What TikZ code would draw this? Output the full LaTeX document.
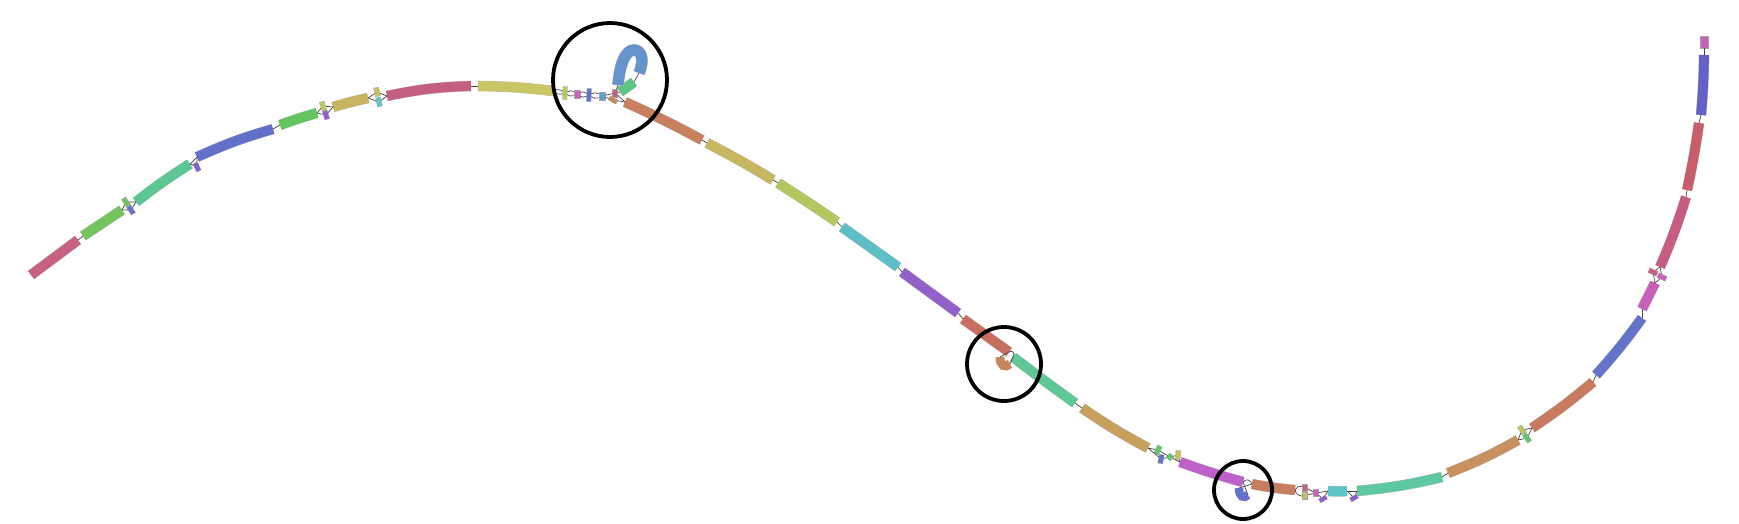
\documentclass[tikz,border=0pt]{standalone}
\begin{document}
\definecolor{cA}{HTML}{C8617F}
\definecolor{cB}{HTML}{72C55C}
\definecolor{cC}{HTML}{5DC793}
\definecolor{cD}{HTML}{6170C9}
\definecolor{cE}{HTML}{63C562}
\definecolor{cF}{HTML}{C8B35E}
\definecolor{cG}{HTML}{C55F80}
\definecolor{cH}{HTML}{C8C763}
\definecolor{cI}{HTML}{5EC882}
\definecolor{cJ}{HTML}{6494CB}
\definecolor{cK}{HTML}{C8805F}
\definecolor{cL}{HTML}{C7B760}
\definecolor{cM}{HTML}{B1C85F}
\definecolor{cN}{HTML}{5EC0C7}
\definecolor{cO}{HTML}{935FC8}
\definecolor{cP}{HTML}{C76E5F}
\definecolor{cQ}{HTML}{5EC896}
\definecolor{cR}{HTML}{C8A05E}
\definecolor{cS}{HTML}{BF5FCA}
\definecolor{cT}{HTML}{C87E5E}
\definecolor{cU}{HTML}{5EC4C8}
\definecolor{cV}{HTML}{5EC8A0}
\definecolor{cW}{HTML}{C8905E}
\definecolor{cX}{HTML}{C87B5F}
\definecolor{cY}{HTML}{6273C9}
\definecolor{cZ}{HTML}{C860B9}
\definecolor{ca}{HTML}{C85E7F}
\definecolor{cb}{HTML}{C75E69}
\definecolor{cc}{HTML}{6262C9}
\definecolor{cd}{HTML}{C85FBB}
\definecolor{sy}{HTML}{C8C060}
\definecolor{sb}{HTML}{6472CC}
\definecolor{sp}{HTML}{8D5FCC}
\definecolor{sg}{HTML}{B9C960}
\definecolor{sc}{HTML}{5FC6C6}
\definecolor{sm2}{HTML}{CC5FC0}
\definecolor{sbc}{HTML}{5FA0C8}
\definecolor{sr}{HTML}{C85F7A}
\definecolor{so}{HTML}{C8865E}
\definecolor{sgr}{HTML}{5EC870}
\tikzset{
  segout/.style={line width=10.6pt, draw=black!25, line cap=butt},
  segin/.style={line width=9.8pt, line cap=butt},
  edge/.style={draw=black!72, line width=0.7pt},
  smn/.style={draw=black!35, line width=0.3pt, inner sep=0pt, minimum width=5pt, minimum height=9pt},
  ring/.style={draw=black, line width=3.8pt},
}
\newcommand\sgm[5]{%
  \coordinate (#1a) at (#3); \coordinate (#1b) at (#4);
  \draw[segout] (#1a) to[bend left=#5] (#1b);
  \draw[segin, draw=#2] (#1a) to[bend left=#5] (#1b);}
\begin{tikzpicture}[x=1pt,y=-1pt]
\useasboundingbox (0,0) rectangle (1739,523);
% segments
\sgm{S1}{cA}{31,275}{78,240}{0}
\sgm{S2}{cB}{83,236}{122,210}{0}
\sgm{S3}{cC}{136,202}{190,164}{3}
\sgm{S4}{cD}{197,157}{273,129}{4}
\sgm{S5}{cE}{280,125}{317,113}{2}
\sgm{S6}{cF}{333,107}{368,98}{2}
\sgm{S7}{cG}{387,96}{471,86}{5}
\sgm{S8}{cH}{478,86}{553,91}{3}
\sgm{S9}{cI}{620,92}{634,82}{0}
\sgm{S10}{cK}{625,102}{702,140}{2}
\sgm{S11}{cL}{707,143}{773,180}{2}
\sgm{S12}{cM}{778,183}{837,222}{1}
\sgm{S13}{cN}{842,227}{898,267}{0}
\sgm{S14}{cO}{902,272}{958,313}{0}
\sgm{S15}{cP}{963,319}{1009,352}{0}
\sgm{S16}{cQ}{1013,357}{1075,403}{-1}
\sgm{S17}{cR}{1082,408}{1148,448}{-3}
\sgm{S18}{cS}{1180,462}{1243,482}{-2}
\sgm{S19}{cT}{1252,484}{1295,490}{-3}
\sgm{S20}{cU}{1328,491}{1347,491}{-4}
\sgm{S21}{cV}{1357,491}{1442,477}{-4}
\sgm{S22}{cW}{1448,473}{1518,440}{-4}
\sgm{S23}{cX}{1532,428}{1593,382}{-3}
\sgm{S24}{cY}{1596,375}{1642,318}{-3}
\sgm{S25}{cZ}{1642,309}{1655,283}{0}
\sgm{S26}{ca}{1660,267}{1686,197}{-3}
\sgm{S27}{cb}{1687,190}{1699,123}{-2}
\sgm{S28}{cc}{1701,115}{1704,55}{-2}
\node[smn, fill=cd, minimum width=8pt, minimum height=12pt] (top) at (1704,42) {};
% hook
\coordinate (Ha) at (618,85); \coordinate (Hb) at (639,73);
\draw[segout, line width=12pt] (Ha) .. controls (620,62) and (626,50) .. (634,50) .. controls (641,50) and (645,59) .. (Hb);
\draw[segin, line width=11pt, draw=cJ] (Ha) .. controls (620,62) and (626,50) .. (634,50) .. controls (641,50) and (645,59) .. (Hb);
% blobs
\coordinate (Oa) at (1000,357); \coordinate (Ob) at (1010,364);
\draw[line width=9pt, draw=so] (Oa) .. controls (1000,366) and (1005,368) .. (Ob);
\coordinate (Ba) at (1239,488); \coordinate (Bb) at (1248,495);
\draw[line width=8.5pt, draw=sb] (Ba) .. controls (1239,497) and (1244,499) .. (Bb);
% small nodes
\node[smn, fill=cB, rotate=33] (n2a) at (126,202) {};
\node[smn, fill=sb, rotate=33] (n2b) at (131,210) {};
\node[smn, fill=sp, rotate=25] (n3a) at (197,167) {};
\node[smn, fill=sg, rotate=17] (n5a) at (323,106) {};
\node[smn, fill=sp, rotate=17] (n5b) at (326,115) {};
\node[smn, fill=sy, rotate=12] (n6a) at (377,92) {};
\node[smn, fill=sc, rotate=12] (n6b) at (379,102) {};
\node[smn, fill=sg, rotate=-3, minimum width=4.5pt, minimum height=13pt] (n8a) at (565,93) {};
\node[smn, fill=sm2, minimum width=6.5pt, minimum height=7.5pt] (n8b) at (577,94) {};
\node[smn, fill=sb, rotate=-3, minimum width=4.5pt, minimum height=13pt] (n8c) at (589,95) {};
\node[smn, fill=sbc, minimum width=6.5pt, minimum height=7.5pt] (n8d) at (602,96) {};
\node[smn, fill=sr, minimum width=5pt, minimum height=8pt] (n8e) at (615,93) {};
\node[smn, fill=so, rotate=60, minimum width=4.5pt, minimum height=9pt] (n8f) at (613,100) {};
\node[smn, fill=sgr, rotate=-25] (n17a) at (1158,450) {};
\node[smn, fill=sb, rotate=-10] (n17b) at (1161,459) {};
\node[smn, fill=sgr, rotate=45, minimum width=5.5pt, minimum height=5.5pt] (n17c) at (1170,457) {};
\node[smn, fill=sy, rotate=-5] (n17d) at (1178,455) {};
\node[smn, fill=sr, minimum width=5pt, minimum height=7pt] (n19a) at (1305,487.5) {};
\node[smn, fill=sy, minimum width=5pt, minimum height=7pt] (n19b) at (1305,495.5) {};
\node[smn, fill=sm2, minimum width=5pt, minimum height=7pt] (n19c) at (1316,493) {};
\node[smn, fill=sp, rotate=-60, minimum width=4.5pt, minimum height=8pt] (n19d) at (1323,499) {};
\node[smn, fill=sp, rotate=-60, minimum width=4.5pt, minimum height=8pt] (n20a) at (1354,498) {};
\node[smn, fill=sg, rotate=35] (n22a) at (1522,430) {};
\node[smn, fill=sgr, rotate=35] (n22b) at (1527,438) {};
\node[smn, fill=sr, rotate=65] (n25a) at (1653,272) {};
\node[smn, fill=sm2, rotate=65] (n25b) at (1662,277) {};
% edges
\draw[edge] (S1b) -- (S2a);
\draw[edge] (S2b) -- (n2a) -- (S3a);
\draw[edge] (S2b) -- (n2b) -- (S3a);
\draw[edge] (S3b) -- (n3a) -- (S4a);
\draw[edge] (S3b) -- (S4a);
\draw[edge] (S4b) -- (S5a);
\draw[edge] (S5b) -- (n5a) -- (S6a);
\draw[edge] (S5b) -- (n5b) -- (S6a);
\draw[edge] (S6b) -- (n6a) -- (S7a);
\draw[edge] (S6b) -- (n6b) -- (S7a);
\draw[edge] (S7b) -- (S8a);
\draw[edge] (S8b) to[bend left=30] (n8a); \draw[edge] (S8b) to[bend right=30] (n8a);
\draw[edge] (n8a) to[bend left=30] (n8b); \draw[edge] (n8a) to[bend right=30] (n8b);
\draw[edge] (n8b) to[bend left=30] (n8c); \draw[edge] (n8b) to[bend right=30] (n8c);
\draw[edge] (n8c) to[bend left=30] (n8d); \draw[edge] (n8c) to[bend right=30] (n8d);
\draw[edge] (n8d) -- (n8e);
\draw[edge] (n8d) -- (n8f);
\draw[edge] (n8e) -- (S9a);
\draw[edge] (n8e) -- (Ha);
\draw[edge] (n8e) -- (S10a);
\draw[edge] (n8f) -- (S10a);
\draw[edge] (S9b) -- (Hb);
\draw[edge] (S10b) -- (S11a);
\draw[edge] (S11b) -- (S12a);
\draw[edge] (S12b) -- (S13a);
\draw[edge] (S13b) -- (S14a);
\draw[edge] (S14b) -- (S15a);
\draw[edge] (S15b) .. controls (1012,349) and (1016,354) .. (S16a);
\draw[edge] (S15b) -- (Oa);
\draw[edge] (Ob) -- (S16a);
\draw[edge] (S16b) -- (S17a);
\draw[edge] (S17b) -- (n17a) -- (n17c);
\draw[edge] (S17b) -- (n17b) -- (n17c);
\draw[edge] (n17c) -- (n17d) -- (S18a);
\draw[edge] (n17c) -- (S18a);
\draw[edge] (S18b) .. controls (1247,478) and (1250,480) .. (S19a);
\draw[edge] (S18b) -- (Bb);
\draw[edge] (Ba) -- (S19a);
\draw[edge] (S19b) to[bend left=40] (n19a); \draw[edge] (S19b) to[bend right=40] (n19b);
\draw[edge] (n19a) -- (n19c); \draw[edge] (n19b) -- (n19c);
\draw[edge] (n19c) -- (S20a); \draw[edge] (n19c) -- (n19d) -- (S20a);
\draw[edge] (S20b) -- (n20a) -- (S21a);
\draw[edge] (S20b) -- (S21a);
\draw[edge] (S21b) -- (S22a);
\draw[edge] (S22b) -- (n22a) -- (S23a);
\draw[edge] (S22b) -- (n22b) -- (S23a);
\draw[edge] (S23b) -- (S24a);
\draw[edge] (S24b) -- (S25a);
\draw[edge] (S25b) -- (n25a) -- (S26a);
\draw[edge] (S25b) -- (n25b) -- (S26a);
\draw[edge] (S26b) -- (S27a);
\draw[edge] (S27b) -- (S28a);
\draw[edge] (S28b) -- (top);
% rings
\node[ring, circle, minimum size=114pt, inner sep=0pt] (R1) at (610,80) {};
\node[ring, circle, minimum size=74pt, inner sep=0pt] (R2) at (1004,364) {};
\node[ring, circle, minimum size=58pt, inner sep=0pt] (R3) at (1243,490) {};
\end{tikzpicture}
\end{document}
